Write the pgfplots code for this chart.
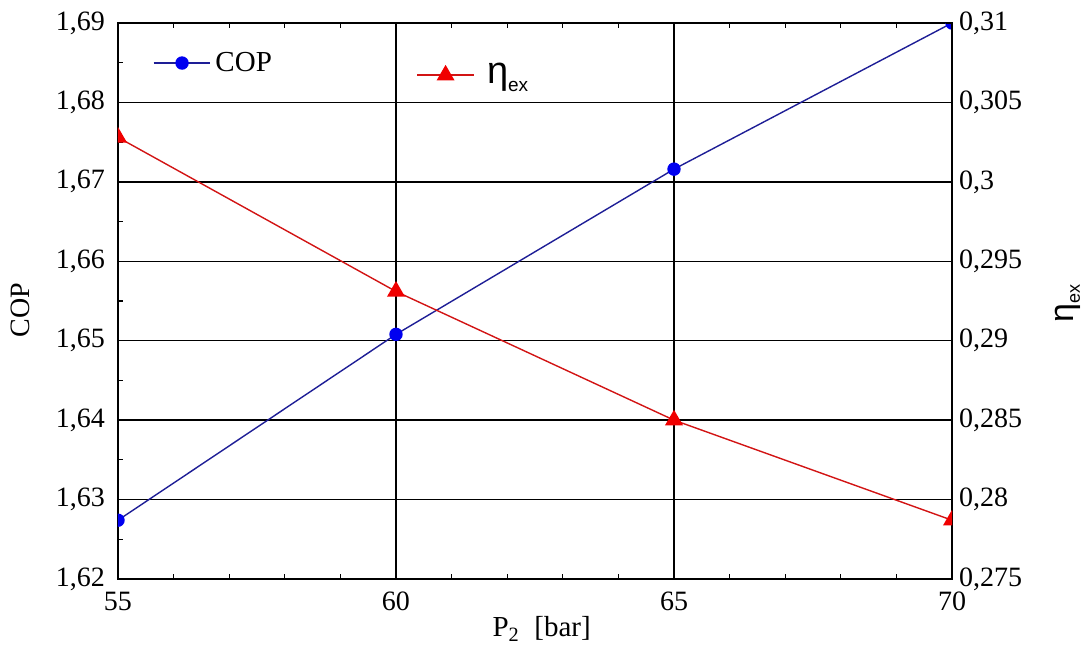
\documentclass[border=0pt]{standalone}
\usepackage{pgfplots}
\pgfplotsset{compat=1.18}
\usepackage{fontspec}
\setmainfont{Liberation Serif}
\newfontfamily\arial{Liberation Sans}
\definecolor{copline}{RGB}{30,30,150}
\definecolor{copmark}{RGB}{0,0,240}
\definecolor{etaline}{RGB}{210,20,20}
\definecolor{etamark}{RGB}{240,0,0}
\pgfplotsset{
  common/.style={
    at={(0,0)}, anchor=south west, scale only axis,
    width=417pt, height=278pt,
    xmin=55, xmax=70,
    clip marker paths=true,
    tick align=inside,
    axis line style={black, line width=1pt},
    tick style={black, line width=0.6pt},
    major tick length=3pt, minor tick length=2.5pt,
    ticklabel style={font=\rmfamily\fontsize{14}{16}\selectfont},
    /pgf/number format/assume math mode=true,
    legend cell align=left,
  }
}
\begin{document}
\begin{tikzpicture}
\path[use as bounding box] (-59pt,-32.5pt) rectangle (485.5pt,289.5pt);
\begin{axis}[common,
  ymin=1.62, ymax=1.69,
  xtick={55,60,65,70},
  ytick={1.62,1.63,1.64,1.65,1.66,1.67,1.68,1.69},
  ytick pos=left,
  minor x tick num=4, minor y tick num=1,
  grid=major, major grid style={black, line width=0.7pt},
  yticklabel style={/pgf/number format/fixed, /pgf/number format/precision=2, /pgf/number format/use comma, xshift=-3pt},
  xticklabel style={yshift=-3pt},
  ylabel={COP},
  ylabel style={at={(axis description cs:-0.117,0.484)}, anchor=center, font=\rmfamily\fontsize{14}{16}\selectfont},
  xlabel={P\textsubscript{2}\ \ [bar]},
  xlabel style={at={(axis description cs:0.508,-0.09)}, anchor=center, font=\rmfamily\fontsize{14.5}{16}\selectfont},
  legend style={draw=none, fill=none, at={(axis description cs:0.041,0.928)}, anchor=west, font=\rmfamily\fontsize{14.5}{16}\selectfont, inner sep=0pt},
  legend image code/.code={%
    \draw[copline, line width=1pt] (0cm,0cm) -- (1cm,0cm);
    \fill[copmark] (0.5cm,0cm) circle (3pt);},
]
\addplot[copline, line width=0.7pt, mark=*, mark size=3pt, mark options={fill=copmark, draw=copmark}]
  coordinates {(55,1.6274) (60,1.6508) (65,1.6716) (70,1.6900)};
\addlegendentry{COP}
\end{axis}
\begin{axis}[common,
  ymin=0.275, ymax=0.31,
  axis x line=none, axis y line*=right,
  ytick={0.275,0.28,0.285,0.29,0.295,0.3,0.305,0.31},
  yticklabel style={/pgf/number format/fixed, /pgf/number format/precision=3, /pgf/number format/use comma},
  ylabel={{\arial\fontsize{17}{19}\selectfont η\raisebox{-0.35ex}{\fontsize{9}{10}\selectfont ex}}},
  ylabel style={at={(axis description cs:1.139,0.496)}, anchor=center},
  legend style={draw=none, fill=none, at={(axis description cs:0.357,0.906)}, anchor=west, inner sep=0pt},
  legend image code/.code={%
    \draw[etaline, line width=1pt] (0cm,0cm) -- (1cm,0cm);
    \draw plot[mark=triangle*, mark size=4.5pt, mark options={fill=etamark, draw=etamark}] coordinates {(0.5cm,0cm)};},
]
\addplot[etaline, line width=0.7pt, mark=triangle*, mark size=4.5pt, mark options={fill=etamark, draw=etamark}]
  coordinates {(55,0.3028) (60,0.2931) (65,0.2850) (70,0.2787)};
\addlegendentry{{\arial\fontsize{19}{21}\selectfont\hspace{4pt}η\raisebox{-0.35ex}{\fontsize{9.5}{11}\selectfont ex}}}
\end{axis}
\end{tikzpicture}
\end{document}
